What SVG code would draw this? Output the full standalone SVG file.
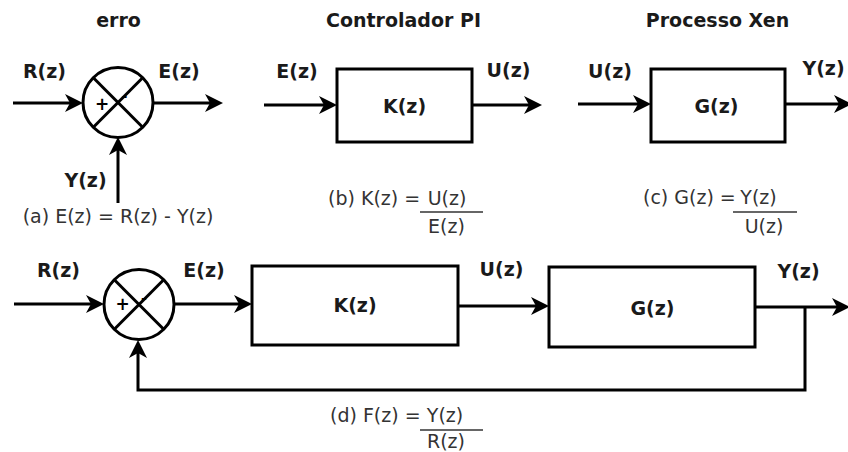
<svg xmlns="http://www.w3.org/2000/svg" width="848" height="452" viewBox="0 0 848 452">
<defs>
<marker id="ah" markerUnits="userSpaceOnUse" viewBox="-20 -11 22 22" refX="-5" refY="0" markerWidth="22" markerHeight="22" orient="auto" overflow="visible">
<path d="M0,0 L-18,-9 L-13,0 L-18,9 Z" fill="#000"/>
</marker>
<style>
.b{font-family:"DejaVu Sans",sans-serif;font-weight:bold;font-size:19px;fill:#1a1a1a;text-anchor:middle}
.n{font-family:"DejaVu Sans",sans-serif;font-size:19px;fill:#333}
.c{text-anchor:middle}
.s{fill:none;stroke:#000;stroke-width:3}
.w{fill:#fff;stroke:#000;stroke-width:3}
.ln{fill:none;stroke:#000;stroke-width:3}
.fr{stroke:#333;stroke-width:1.5}
.sg{font-family:"DejaVu Sans",sans-serif;font-weight:bold;fill:#000;text-anchor:middle}
</style>
</defs>
<rect width="848" height="452" fill="#fff"/>

<g id="titles">
<text class="b" x="118.5" y="27">erro</text>
<text class="b" x="403.5" y="27">Controlador PI</text>
<text class="b" x="717.5" y="27">Processo Xen</text>
</g>

<g id="connectors">
<line class="ln" x1="13" y1="103" x2="78" y2="103" marker-end="url(#ah)"/>
<line class="ln" x1="153" y1="103" x2="218" y2="103" marker-end="url(#ah)"/>
<line class="ln" x1="118" y1="203" x2="118" y2="142" marker-end="url(#ah)"/>
<line class="ln" x1="264" y1="105" x2="332" y2="105" marker-end="url(#ah)"/>
<line class="ln" x1="472" y1="105" x2="537" y2="105" marker-end="url(#ah)"/>
<line class="ln" x1="578" y1="104" x2="646" y2="104" marker-end="url(#ah)"/>
<line class="ln" x1="785" y1="104" x2="847" y2="104" marker-end="url(#ah)"/>
<line class="ln" x1="14" y1="304" x2="99" y2="304" marker-end="url(#ah)"/>
<line class="ln" x1="174" y1="304" x2="247" y2="304" marker-end="url(#ah)"/>
<line class="ln" x1="458" y1="306" x2="544" y2="306" marker-end="url(#ah)"/>
<line class="ln" x1="755" y1="307" x2="845" y2="307" marker-end="url(#ah)"/>
<polyline class="ln" points="805,307 805,390 138,390 138,345" marker-end="url(#ah)"/>
</g>

<g id="sum-top">
<circle class="w" cx="118" cy="102.5" r="35"/>
<line class="s" x1="93.3" y1="77.8" x2="142.7" y2="127.2"/>
<line class="s" x1="142.7" y1="77.8" x2="93.3" y2="127.2"/>
<text class="sg" x="102" y="110" font-size="17">+</text>
<text class="sg" x="124.5" y="101" font-size="14">-</text>
</g>

<g id="labels-a">
<text class="b" x="44.5" y="78">R(z)</text>
<text class="b" x="179" y="78">E(z)</text>
<text class="b" x="85.5" y="187">Y(z)</text>
<text class="n c" x="118" y="223">(a) E(z) = R(z) - Y(z)</text>
</g>

<g id="K-top">
<rect class="w" x="337" y="69" width="135" height="73"/>
<text class="b" x="404.5" y="113">K(z)</text>
</g>
<g id="labels-b">
<text class="b" x="297" y="78">E(z)</text>
<text class="b" x="508.5" y="77">U(z)</text>
<text class="n" x="328" y="205">(b) K(z) =</text>
<text class="n c" x="447" y="205">U(z)</text>
<line class="fr" x1="420" y1="212" x2="483" y2="212"/>
<text class="n c" x="446.5" y="233">E(z)</text>
</g>

<g id="G-top">
<rect class="w" x="651" y="69" width="134" height="73"/>
<text class="b" x="716.5" y="113">G(z)</text>
</g>
<g id="labels-c">
<text class="b" x="610" y="78">U(z)</text>
<text class="b" x="823.5" y="75">Y(z)</text>
<text class="n" x="643" y="204">(c) G(z) =</text>
<text class="n c" x="758.5" y="204">Y(z)</text>
<line class="fr" x1="733" y1="212" x2="797" y2="212"/>
<text class="n c" x="764" y="233">U(z)</text>
</g>

<g id="sum-bottom">
<circle class="w" cx="139" cy="304.5" r="35"/>
<line class="s" x1="114.3" y1="279.8" x2="163.7" y2="329.2"/>
<line class="s" x1="163.7" y1="279.8" x2="114.3" y2="329.2"/>
<text class="sg" x="122.5" y="310" font-size="17">+</text>
<text class="sg" x="144" y="303" font-size="14">-</text>
</g>

<g id="K-bottom">
<rect class="w" x="252" y="266" width="206" height="79"/>
<text class="b" x="355" y="312">K(z)</text>
</g>

<g id="G-bottom">
<rect class="w" x="549" y="267" width="206" height="80"/>
<text class="b" x="652.5" y="315">G(z)</text>
</g>

<g id="labels-d">
<text class="b" x="58.5" y="277">R(z)</text>
<text class="b" x="204" y="277">E(z)</text>
<text class="b" x="501.5" y="276">U(z)</text>
<text class="b" x="798.5" y="278">Y(z)</text>
<text class="n" x="330" y="422">(d) F(z) =</text>
<text class="n c" x="445" y="422">Y(z)</text>
<line class="fr" x1="420" y1="430" x2="483" y2="430"/>
<text class="n c" x="446" y="448">R(z)</text>
</g>
</svg>
